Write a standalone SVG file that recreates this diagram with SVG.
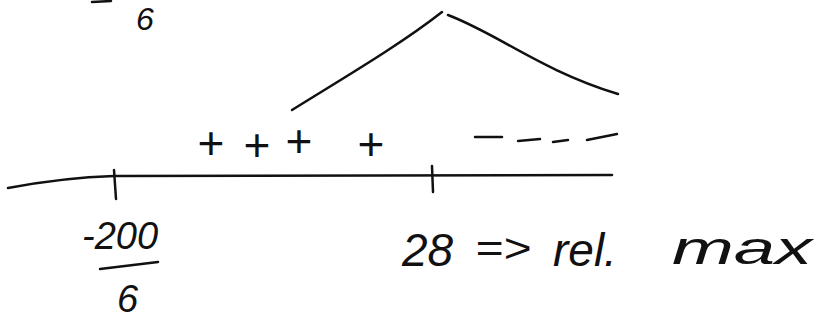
<svg xmlns="http://www.w3.org/2000/svg" width="817" height="324" viewBox="0 0 817 324">
<style>
.ln{fill:none;stroke:#111;stroke-width:2.5;stroke-linecap:round;stroke-linejoin:round}
.tx{font-family:"Liberation Sans",Arial,sans-serif;fill:#111;font-style:italic}
.sg{font-family:"Liberation Sans",Arial,sans-serif;fill:#111;font-size:46px;text-anchor:middle}
</style>
<rect width="817" height="324" fill="#fff"/>
<g id="top-fraction">
<path class="ln" d="M92 2 L111 1"/>
<text class="tx" x="136" y="30" font-size="32">6</text>
</g>
<g id="curve">
<path class="ln" d="M292 110 C340 80 400 45 442 12"/>
<path class="ln" d="M448 15 C500 35 540 70 618 94"/>
</g>
<g id="signs">
<text class="sg" x="211" y="159">+</text>
<text class="sg" x="257" y="161">+</text>
<text class="sg" x="299" y="157">+</text>
<text class="sg" x="371" y="160">+</text>
<path class="ln" d="M475 137 L502 137"/>
<path class="ln" d="M518 141 L540 139"/>
<path class="ln" d="M553 142 L568 140"/>
<path class="ln" d="M587 140 L617 134"/>
</g>
<g id="axis">
<path class="ln" d="M8 188 C40 182 80 177 114 176 L612 175"/>
<path class="ln" d="M114 170 L116 199"/>
<path class="ln" d="M432 166 L433 192"/>
</g>
<g id="label-left">
<text class="tx" x="82" y="249" font-size="38">-200</text>
<path class="ln" d="M100 269 L158 262"/>
<text class="tx" x="117" y="312" font-size="38">6</text>
</g>
<g id="label-right">
<text class="tx" x="402" y="266" font-size="46">28</text>
<text class="tx" x="475" y="262" font-size="40" textLength="56" lengthAdjust="spacingAndGlyphs">=&gt;</text>
<text class="tx" x="553" y="266" font-size="46">rel.</text>
<text class="tx" x="672" y="264" font-size="46" textLength="140" lengthAdjust="spacingAndGlyphs">max</text>
</g>
</svg>
